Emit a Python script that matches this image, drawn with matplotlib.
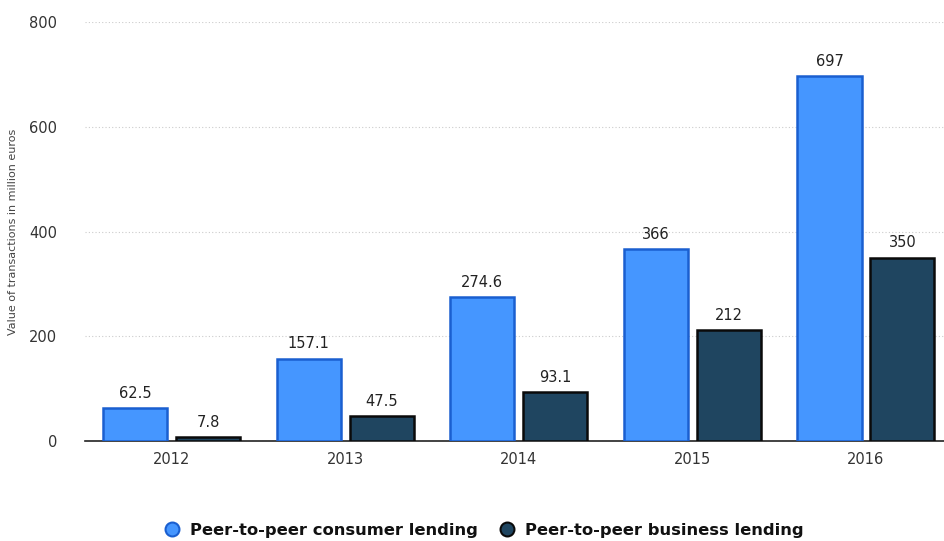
import matplotlib
matplotlib.use("Agg")
import matplotlib.pyplot as plt
import numpy as np
from matplotlib.lines import Line2D

years = ["2012", "2013", "2014", "2015", "2016"]
consumer = [62.5, 157.1, 274.6, 366, 697]
business = [7.8, 47.5, 93.1, 212, 350]
consumer_labels = ["62.5", "157.1", "274.6", "366", "697"]
business_labels = ["7.8", "47.5", "93.1", "212", "350"]

c_face, c_edge = "#4596ff", "#1a5fd0"
b_face, b_edge = "#1f4560", "#0a0a0a"

fig = plt.figure(figsize=(9.44, 5.41), dpi=100)
ax = fig.add_axes([0.09, 0.185, 0.91, 0.774])

x = np.arange(len(years))
w = 0.37
off = 0.21
ax.bar(x - off, consumer, w, color=c_face, edgecolor=c_edge, linewidth=1.8, zorder=3)
ax.bar(x + off, business, w, color=b_face, edgecolor=b_edge, linewidth=1.8, zorder=3)

for xi, v, t in zip(x - off, consumer, consumer_labels):
    ax.text(xi, v + 14, t, ha="center", va="bottom", fontsize=10.5, color="#222222")
for xi, v, t in zip(x + off, business, business_labels):
    ax.text(xi, v + 14, t, ha="center", va="bottom", fontsize=10.5, color="#222222")

ax.set_xlim(-0.5, 4.45)
ax.set_ylim(0, 800)
ax.set_yticks([0, 200, 400, 600, 800])
ax.set_xticks(x)
ax.set_xticklabels(years)
ax.tick_params(axis="both", length=0, labelsize=10.5, labelcolor="#333333")
ax.tick_params(axis="y", pad=20)
ax.tick_params(axis="x", pad=8)
ax.grid(axis="y", linestyle=(0, (1, 2)), color="#cccccc", linewidth=0.8, zorder=0)
for s in ["top", "right", "left"]:
    ax.spines[s].set_visible(False)
ax.spines["bottom"].set_color("#222222")
ax.spines["bottom"].set_linewidth(1.2)
ax.set_ylabel("Value of transactions in million euros", fontsize=8, color="#444444", labelpad=8)

handles = [
    Line2D([], [], marker="o", linestyle="", markersize=10, markerfacecolor=c_face, markeredgecolor=c_edge, markeredgewidth=1.5),
    Line2D([], [], marker="o", linestyle="", markersize=10, markerfacecolor=b_face, markeredgecolor=b_edge, markeredgewidth=1.5),
]
fig.legend(handles, ["Peer-to-peer consumer lending", "Peer-to-peer business lending"],
           loc="center", bbox_to_anchor=(0.508, 0.02), ncol=2, frameon=False,
           prop={"weight": "bold", "size": 11.8}, handletextpad=0.1, columnspacing=0.8,
           labelcolor="#111111")

fig.savefig("out.png", dpi=100)
